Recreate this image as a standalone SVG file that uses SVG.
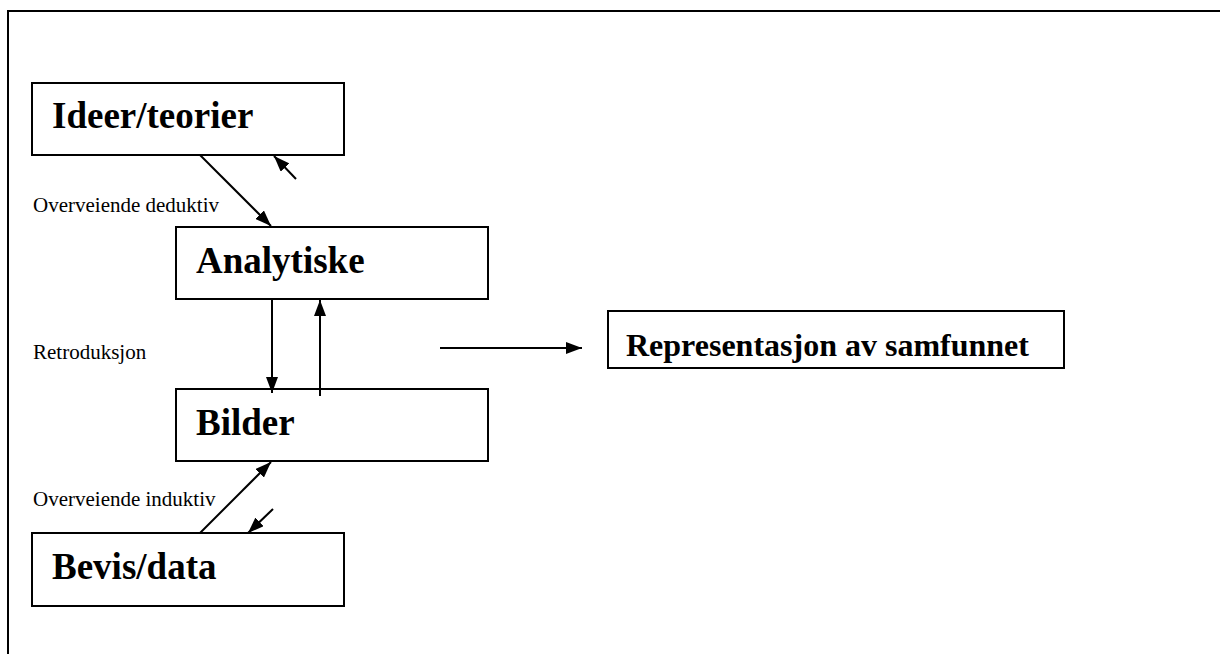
<svg xmlns="http://www.w3.org/2000/svg" width="1220" height="654" viewBox="0 0 1220 654">
<style>
.box{fill:#fff;stroke:#000;stroke-width:2}
.title{font-family:"Liberation Serif","Times New Roman",serif;font-weight:bold;font-size:37px;fill:#000}
.rep{font-family:"Liberation Serif","Times New Roman",serif;font-weight:bold;font-size:32px;fill:#000}
.lbl{font-family:"Liberation Serif","Times New Roman",serif;font-size:21px;fill:#000}
.con{stroke:#000;stroke-width:2;fill:none;marker-end:url(#ah)}
</style>
<defs>
<marker id="ah" markerWidth="8" markerHeight="6" refX="8" refY="3" orient="auto" markerUnits="strokeWidth">
<path d="M0,0 L8,3 L0,6 Z" fill="#000"/>
</marker>
</defs>
<rect x="0" y="0" width="1220" height="654" fill="#fff"/>
<path d="M8,660 L8,11 L1230,11" fill="none" stroke="#000" stroke-width="2"/>
<g id="ideer"><rect class="box" x="32" y="83" width="312" height="72"/><text class="title" x="52" y="128">Ideer/teorier</text></g>
<g id="analytiske"><rect class="box" x="176" y="227" width="312" height="72"/><text class="title" x="196" y="273">Analytiske</text></g>
<g id="bilder"><rect class="box" x="176" y="389" width="312" height="72"/><text class="title" x="196" y="435">Bilder</text></g>
<g id="bevis"><rect class="box" x="32" y="533" width="312" height="73"/><text class="title" x="52" y="579">Bevis/data</text></g>
<g id="representasjon"><rect class="box" x="608" y="311" width="456" height="57"/><text class="rep" x="626" y="356">Representasjon av samfunnet</text></g>
<g id="labels">
<text class="lbl" x="33" y="212">Overveiende deduktiv</text>
<text class="lbl" x="33" y="359">Retroduksjon</text>
<text class="lbl" x="33" y="506">Overveiende induktiv</text>
</g>
<g id="connectors">
<line class="con" x1="200" y1="155" x2="271" y2="226"/>
<line class="con" x1="296" y1="179" x2="274" y2="156"/>
<line class="con" x1="272" y1="299" x2="272" y2="393"/>
<line class="con" x1="320" y1="396" x2="320" y2="300"/>
<line class="con" x1="200" y1="533" x2="271" y2="462"/>
<line class="con" x1="273" y1="509" x2="248" y2="533"/>
<line class="con" x1="440" y1="348" x2="582" y2="348"/>
</g>
</svg>
